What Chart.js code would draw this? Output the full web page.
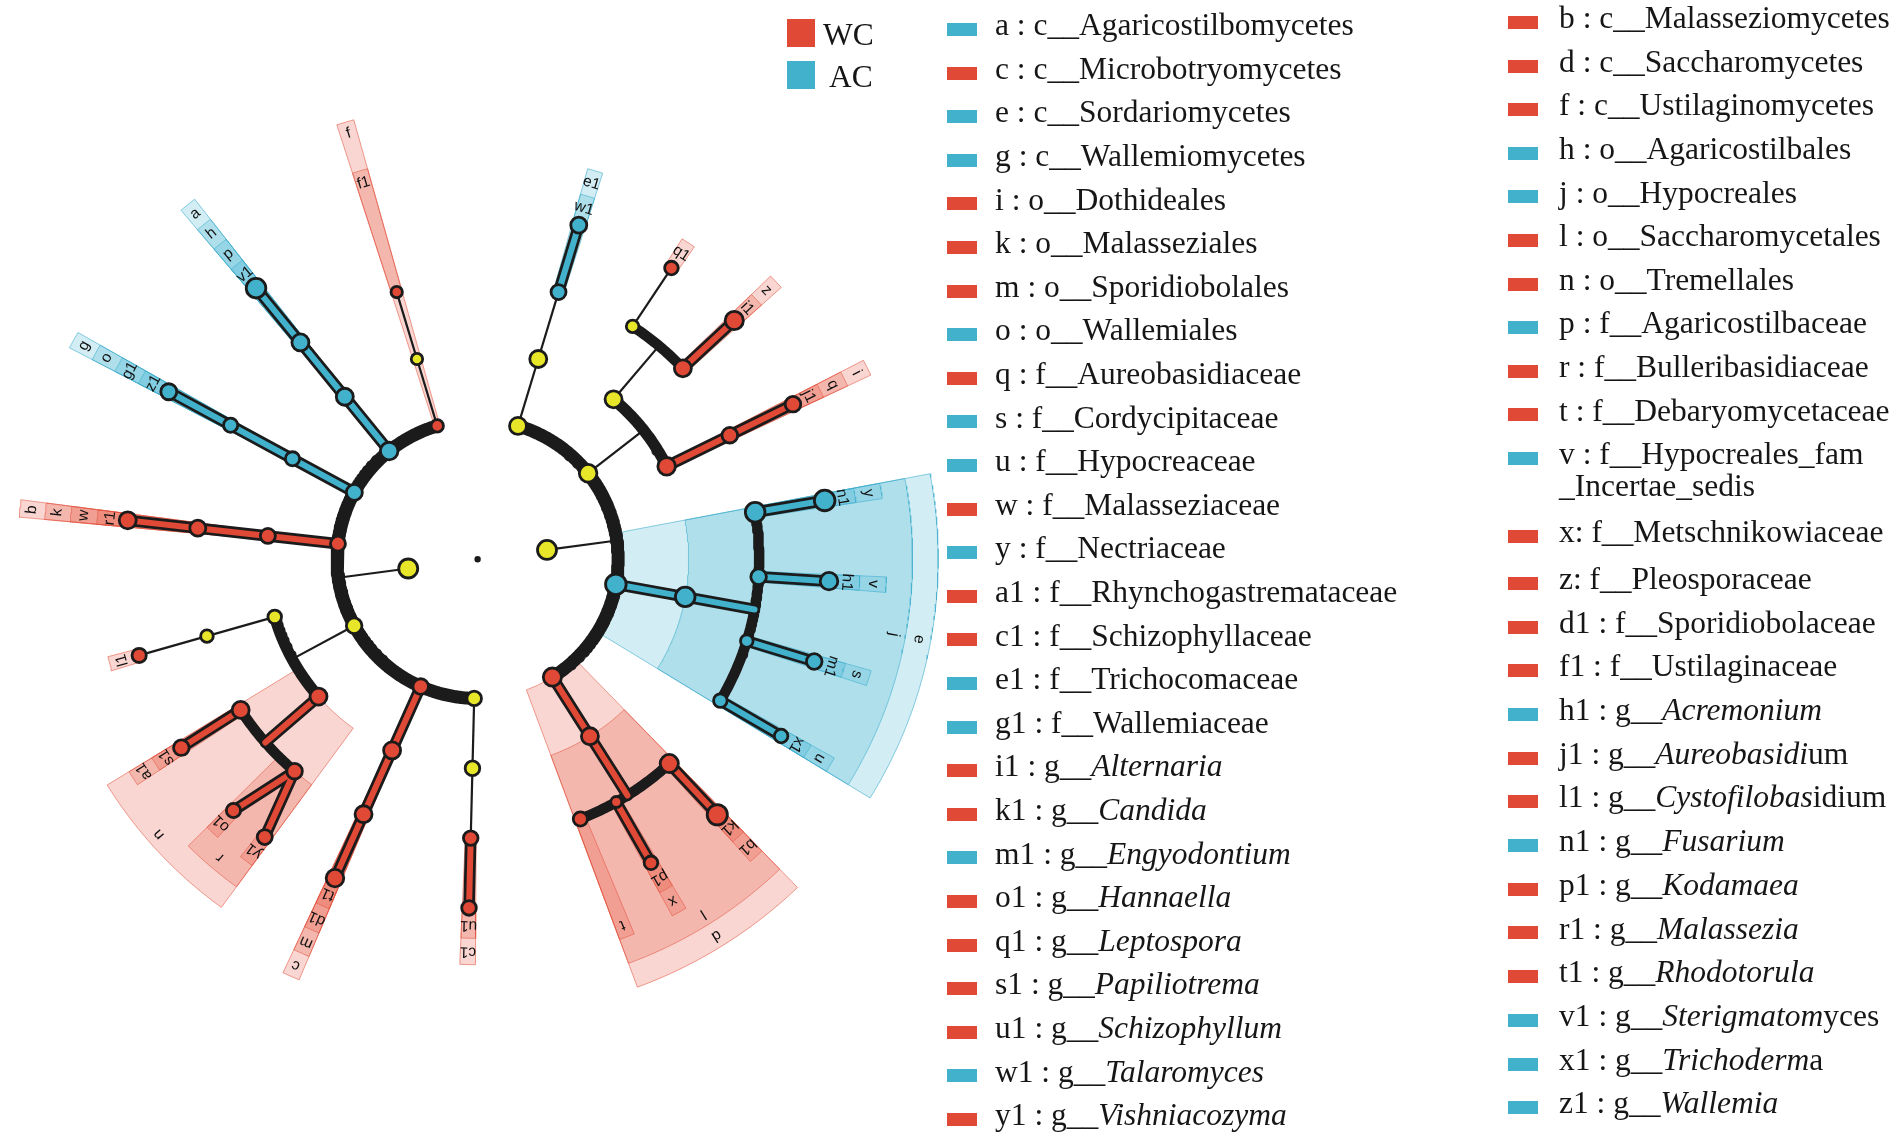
<!DOCTYPE html>
<html>
<head>
<meta charset="utf-8">
<script src="https://cdn.jsdelivr.net/npm/chart.js@4.4.1/dist/chart.umd.min.js"></script>
<style>
html,body{margin:0;padding:0;background:#fff;}
#wrap{position:relative;width:1902px;height:1139px;overflow:hidden;background:#fff;}
#c{position:absolute;left:0;top:0;}
.lg{position:absolute;font-family:"Liberation Serif","Times New Roman",serif;font-size:31.5px;line-height:31.5px;color:#161616;white-space:nowrap;}
.lg i{font-style:italic;}
.bx{position:absolute;}
</style>
</head>
<body>
<div id="wrap"><canvas id="c" width="1902" height="1139"></canvas></div>
<script>
// ---------------- DATA ----------------
// Tree: parent index of every clade (root = -1). Depth = taxonomic level.
const nodeParent = [-1, 0,
  1,2,3,        // f  Ustilaginomycetes
  1,5,6,7,      // a  Agaricostilbomycetes
  1,9,10,11,    // g  Wallemiomycetes
  1,13,14,15,   // b  Malasseziomycetes
  1,17,18,19,   // Tremellomycetes / Cystofilobasidiales
  17,21,22,     // n  Tremellales / a1
  21,24,24,     // r  Bulleribasidiaceae
  1,27,28,29,   // c  Microbotryomycetes
  1,31,32,33,   // Agaricomycetes
  0,
  35,36,37,38,  // Eurotiomycetes
  35,40,41,42,  // Dothideomycetes / Pleosporales
  41,44,        // z
  40,46,47,     // i Dothideales
  35,49,50,51,  // e Sordariomycetes / j / y
  50,53, 50,55, 50,57,
  35,59,60,     // d Saccharomycetes / l / t
  60,62, 60,64];
// Clade labels
const nodeLabel = ['', '',
  'f','','f1',
  'a','h','p','v1',
  'g','o','g1','z1',
  'b','k','w','r1',
  '','','','l1',
  'n','a1','s1',
  'r','o1','y1',
  'c','m','d1','t1',
  '','','c1','u1',
  '',
  '','','e1','w1',
  '','','','q1',
  'z','i1',
  'i','q','j1',
  'e','j','y','n1',
  'v','h1','s','m1','u','x1',
  'd','l','t',
  'x','p1','b1','k1'];
// 0 = not significant, 1 = WC, 2 = AC
const nodeGroup = [0,0,
  1,0,1,
  2,2,2,2,
  2,2,2,2,
  1,1,1,1,
  0,0,0,1,
  1,1,1,
  1,1,1,
  1,1,1,1,
  0,0,1,1,
  0,
  0,0,2,2,
  0,0,0,1,
  1,1,
  1,1,1,
  2,2,2,2,
  2,2,2,2,2,2,
  1,1,1,
  1,1,1,1];
// node circle size (abundance)
const nodeSize = [3.2,10.9,
  7.6,7.1,7.1,
  10.2,9.9,9.9,11.2,
  9.4,8.5,8.5,9.4,
  8.9,8.9,9.4,9.9,
  9.2,8.2,7.7,8.5,
  9.9,9.9,9.2,
  9.2,8.5,8.9,
  9.2,9.9,9.9,10.2,
  8.7,8.7,8.7,8.7,
  10.9,
  9.9,9.9,8.9,9.4,
  10.2,9.9,7.7,8.2,
  9.9,10.5,
  10.2,9.2,9.2,
  11.7,11.2,11.2,11.7,
  9.2,10.2,7.7,9.2,8.2,8.2,
  10.5,9.9,8.5,
  6.9,8.2,10.5,11.5];
// angular position (deg) of terminal clades, in node order
const leafAngles = [106.7,129.0,151.3,173.6,196.0,212.7,226.1,232.8,246.1,268.6,
  73.3,56.6,43.2,26.4,9.7,-3.6,-17.05,-30.45,-68.6,-60.5,-47.1];

// legend
const groupNames = ['WC','AC'];
const legendLeftKeys = ['a','c','e','g','i','k','m','o','q','s','u','w','y','a1','c1','e1','g1','i1','k1','m1','o1','q1','s1','u1','w1','y1'];
const legendLeftText = ['c__Agaricostilbomycetes','c__Microbotryomycetes','c__Sordariomycetes','c__Wallemiomycetes','o__Dothideales','o__Malasseziales','o__Sporidiobolales','o__Wallemiales','f__Aureobasidiaceae','f__Cordycipitaceae','f__Hypocreaceae','f__Malasseziaceae','f__Nectriaceae','f__Rhynchogastremataceae','f__Schizophyllaceae','f__Trichocomaceae','f__Wallemiaceae','g__<i>Alternaria</i>','g__<i>Candida</i>','g__<i>Engyodontium</i>','g__<i>Hannaella</i>','g__<i>Leptospora</i>','g__<i>Papiliotrema</i>','g__<i>Schizophyllum</i>','g__<i>Talaromyces</i>','g__<i>Vishniacozyma</i>'];
const legendLeftGroup = [2,1,2,2,1,1,1,2,1,2,2,1,2,1,1,2,2,1,1,2,1,1,1,1,2,1];
const legendRightKeys = ['b','d','f','h','j','l','n','p','r','t','v','x','z','d1','f1','h1','j1','l1','n1','p1','r1','t1','v1','x1','z1'];
const legendRightText = ['c__Malasseziomycetes','c__Saccharomycetes','c__Ustilaginomycetes','o__Agaricostilbales','o__Hypocreales','o__Saccharomycetales','o__Tremellales','f__Agaricostilbaceae','f__Bulleribasidiaceae','f__Debaryomycetaceae','f__Hypocreales_fam<br>_Incertae_sedis','f__Metschnikowiaceae','f__Pleosporaceae','f__Sporidiobolaceae','f__Ustilaginaceae','g__<i>Acremonium</i>','g__<i>Aureobasidi</i>um','g__<i>Cystofilobas</i>idium','g__<i>Fusarium</i>','g__<i>Kodamaea</i>','g__<i>Malassezia</i>','g__<i>Rhodotorula</i>','g__<i>Sterigmatom</i>yces','g__<i>Trichoderm</i>a','g__<i>Wallemia</i>'];
const legendRightGroup = [1,1,1,2,2,1,1,2,1,1,2,1,1,1,1,2,1,1,2,1,1,1,2,2,2];

// ---------------- STYLE / LAYOUT ----------------
const R_LEVEL = [0, 71, 142.5, 214, 285.5, 357];
const R_LABEL = [0, 0, 455, 429, 402, 375];
const R_SHADE = [0, 0, 467, 441, 415, 388];
const ARC_W = [0, 0, 13, 11.5, 10.5, 9.5];
const PAD = 1.1;
const COL = {0:'#E8E629', 1:'#DF4936', 2:'#42B1CC'};
const SHADE = {1:'rgba(228,82,62,0.24)', 2:'rgba(66,180,208,0.24)'};
const SHADE_LINE = {1:'rgba(226,80,60,0.55)', 2:'rgba(60,172,204,0.6)'};
const INK = '#1b1b1b';

// ---------------- TREE GEOMETRY ----------------
const N = nodeParent.length;
const children = Array.from({length:N}, () => []);
nodeParent.forEach((p,i) => { if (p >= 0) children[p].push(i); });
const depth = nodeParent.map((p,i) => { let d = 0, q = p; while (q >= 0) { d++; q = nodeParent[q]; } return d; });
const angle = new Array(N), leafMin = new Array(N), leafMax = new Array(N);
let leafIdx = 0;
const leafOf = new Array(N);
for (let i = 0; i < N; i++) if (children[i].length === 0) leafOf[i] = leafAngles[leafIdx++];
function layout(i) {
  if (children[i].length === 0) { angle[i] = leafMin[i] = leafMax[i] = leafOf[i]; return; }
  children[i].forEach(layout);
  const a = children[i].map(c => angle[c]);
  angle[i] = (Math.min(...a) + Math.max(...a)) / 2;
  leafMin[i] = Math.min(...children[i].map(c => leafMin[c]));
  leafMax[i] = Math.max(...children[i].map(c => leafMax[c]));
}
layout(0);

function pt(r, a) { const t = a * Math.PI / 180; return {x: r * Math.cos(t), y: r * Math.sin(t)}; }
function arcPts(r, a0, a1) {
  const n = Math.max(2, Math.ceil(Math.abs(a1 - a0) / 0.5) + 1), out = [];
  for (let k = 0; k < n; k++) out.push(pt(r, a0 + (a1 - a0) * k / (n - 1)));
  return out;
}

const datasets = [];
function lineDS(points, color, width, order, cap) {
  datasets.push({data: points, showLine: true, borderColor: color, borderWidth: width,
    pointRadius: 0, pointHoverRadius: 0, fill: false, order: order,
    borderCapStyle: cap || 'butt', borderJoinStyle: 'round'});
}
function seg(points, g) {
  if (g > 0) { lineDS(points, INK, 11.5, 45, 'round'); lineDS(points, COL[g], 6, 30, 'round'); }
  else lineDS(points, INK, 2.2, 50, 'butt');
}

// shaded clade sectors
for (let i = 0; i < N; i++) {
  const g = nodeGroup[i], d = depth[i];
  if (!g || d < 2) continue;
  const lo = leafMin[i] - PAD, hi = leafMax[i] + PAD;
  const poly = [...arcPts(R_LEVEL[d], lo, hi), ...arcPts(R_SHADE[d], hi, lo)];
  poly.push(poly[0]);
  datasets.push({data: poly, showLine: true, fill: 'shape', backgroundColor: SHADE[g],
    borderColor: SHADE_LINE[g], borderWidth: 1, pointRadius: 0, pointHoverRadius: 0, order: 100});
}

// branches
for (let i = 1; i < N; i++) {
  const kids = children[i];
  if (!kids.length) continue;
  const d = depth[i], rp = R_LEVEL[d], rc = R_LEVEL[d + 1], gp = nodeGroup[i];
  const angs = kids.map(k => angle[k]);
  const mn = Math.min(...angs), mx = Math.max(...angs);
  if (kids.length === 1) {
    const k = kids[0];
    seg([pt(rp, angle[i]), pt(rc, angle[k])], (gp && nodeGroup[k] === gp) ? gp : 0);
  } else if (mx - mn >= 10) {
    seg([pt(rp, angle[i]), pt(rc, angle[i])], (gp && kids.some(k => nodeGroup[k] === gp)) ? gp : 0);
    lineDS(arcPts(rc, mn, mx), INK, ARC_W[d + 1], 40, 'butt');
  } else {
    kids.forEach(k => seg([pt(rp, angle[i]), pt(rc, angle[k])], (gp && nodeGroup[k] === gp) ? gp : 0));
  }
}

// nodes
const nodeIdx = [...Array(N).keys()];
datasets.push({
  data: nodeIdx.map(i => pt(R_LEVEL[depth[i]], angle[i])),
  showLine: false,
  pointRadius: nodeIdx.map(i => Math.max(1.5, nodeSize[i] - 1.4)),
  pointHoverRadius: nodeIdx.map(i => Math.max(1.5, nodeSize[i] - 1.4)),
  pointBackgroundColor: nodeIdx.map(i => i === 0 ? INK : COL[nodeGroup[i]]),
  pointBorderColor: INK, pointBorderWidth: 2.8, order: 0
});

// clade labels along the outer ring
const labelPlugin = {
  id: 'cladeLabels',
  afterDatasetsDraw(chart) {
    const ctx = chart.ctx, xs = chart.scales.x, ys = chart.scales.y;
    ctx.save();
    ctx.font = '15.5px "Liberation Sans", Arial, sans-serif';
    ctx.fillStyle = '#111';
    ctx.textAlign = 'center';
    ctx.textBaseline = 'middle';
    for (let i = 0; i < N; i++) {
      if (!nodeGroup[i] || depth[i] < 2) continue;
      const a = angle[i], p = pt(R_LABEL[depth[i]], a);
      ctx.save();
      ctx.translate(xs.getPixelForValue(p.x), ys.getPixelForValue(p.y));
      ctx.rotate(-(a - 90) * Math.PI / 180);
      ctx.fillText(nodeLabel[i], 0, 0);
      ctx.restore();
    }
    ctx.restore();
  }
};

new Chart(document.getElementById('c'), {
  type: 'scatter',
  data: {datasets},
  options: {
    responsive: false, animation: false, events: [],
    layout: {padding: 0},
    plugins: {legend: {display: false}, tooltip: {enabled: false}},
    scales: {
      x: {type: 'linear', min: -471, max: 1431, display: false},
      y: {type: 'linear', min: -580, max: 559, display: false}
    }
  },
  plugins: [labelPlugin]
});

// ---------------- LEGEND (HTML text) ----------------
const wrap = document.getElementById('wrap');
function box(x, y, w, h, color) {
  const b = document.createElement('div'); b.className = 'bx';
  b.style.cssText = `left:${x}px;top:${y}px;width:${w}px;height:${h}px;background:${color}`;
  wrap.appendChild(b);
}
function text(x, baseline, html) {
  const t = document.createElement('div'); t.className = 'lg';
  t.style.left = x + 'px'; t.style.top = (baseline - 26.4) + 'px';
  t.innerHTML = html; wrap.appendChild(t); return t;
}
// group legend
box(787, 19, 28, 28, COL[1]); text(823, 45, groupNames[0]);
box(787, 61, 28, 28, COL[2]); text(829, 87, groupNames[1]);
// left column
legendLeftKeys.forEach((k, i) => {
  const cy = 29.5 + 43.6 * i;
  box(947, cy - 6.5, 30, 13, COL[legendLeftGroup[i]]);
  text(995, cy + 6, k + ' : ' + legendLeftText[i]);
});
// right column
legendRightKeys.forEach((k, i) => {
  let cy;
  if (i <= 10) cy = 22.5 + 43.6 * i;
  else if (i === 11) cy = 536.7;
  else cy = 583.3 + 43.7 * (i - 12);
  box(1508, cy - 6.5, 30, 13, COL[legendRightGroup[i]]);
  const sep = (k === 'x' || k === 'z') ? ': ' : ' : ';
  const t = text(1559, cy + 6, k + sep + legendRightText[i]);
  if (k === 'v') t.style.lineHeight = '32.3px';
});
</script>
</body>
</html>
